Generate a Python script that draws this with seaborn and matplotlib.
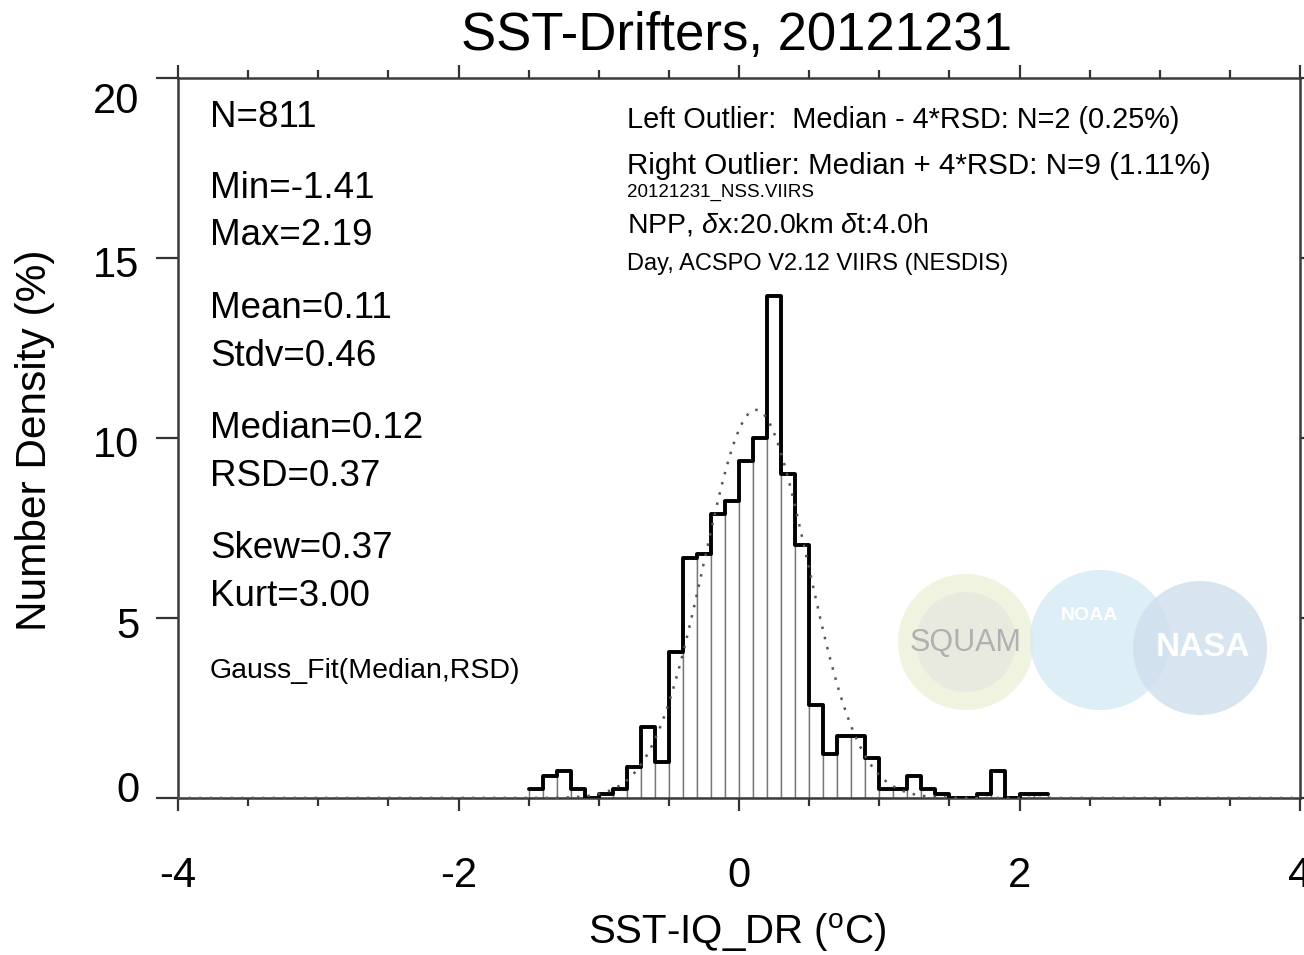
import numpy as np
import pandas as pd
import matplotlib
matplotlib.use("Agg")
import matplotlib.pyplot as plt
import matplotlib.transforms as mtransforms
import seaborn as sns
from matplotlib.patches import Ellipse
from matplotlib.ticker import MultipleLocator

# ---------------- data ----------------
bin_left_edges = [-1.5, -1.4, -1.3, -1.2, -1.1, -1.0, -0.9, -0.8, -0.7, -0.6, -0.5, -0.4, -0.3,
                  -0.2, -0.1, 0.0, 0.1, 0.2, 0.3, 0.4, 0.5, 0.6, 0.7, 0.8, 0.9, 1.0, 1.1, 1.2,
                  1.3, 1.4, 1.5, 1.6, 1.7, 1.8, 1.9, 2.0, 2.1]
bin_counts = [2, 5, 6, 2, 0, 1, 2, 7, 16, 8, 33, 54, 55,
              64, 67, 76, 81, 113, 73, 57, 21, 10, 14, 14, 9, 2, 2, 5,
              2, 1, 0, 0, 1, 6, 0, 1, 1]
bin_width = 0.1
n_total = 811
median = 0.12
rsd = 0.37

stats_lines = [("N=811", 127), ("Min=-1.41", 198), ("Max=2.19", 245),
               ("Mean=0.11", 318), ("Stdv=0.46", 366),
               ("Median=0.12", 438), ("RSD=0.37", 486),
               ("Skew=0.37", 558), ("Kurt=3.00", 606)]

title = "SST-Drifters, 20121231"
xlabel = r"SST-IQ_DR ($^{\rm o}$C)"
ylabel = "Number Density (%)"
x_ticks = [-4, -2, 0, 2, 4]
y_ticks = [0, 5, 10, 15, 20]

# ---------------- setup ----------------
sns.set_theme(style="ticks")
plt.rcParams['font.family'] = ['Liberation Sans', 'DejaVu Sans']
plt.rcParams['mathtext.fontset'] = 'custom'
plt.rcParams['mathtext.rm'] = 'Liberation Sans'
plt.rcParams['mathtext.it'] = 'Liberation Sans:italic'
plt.rcParams['text.color'] = 'black'
plt.rcParams['axes.labelcolor'] = 'black'
plt.rcParams['xtick.labelcolor'] = 'black'
plt.rcParams['ytick.labelcolor'] = 'black'

W, H = 1304, 955
fig = plt.figure(figsize=(W / 100, H / 100), dpi=100)
ax_l, ax_r, ax_t, ax_b = 178, 1300, 78, 798
ax = fig.add_axes([ax_l / W, 1 - ax_b / H, (ax_r - ax_l) / W, (ax_b - ax_t) / H])

edges = [round(v, 3) for v in bin_left_edges] + [round(bin_left_edges[-1] + bin_width, 3)]
centers = [round(v + bin_width / 2, 3) for v in bin_left_edges]
pct = [c / n_total * 100 for c in bin_counts]
df = pd.DataFrame({"x": centers, "w": pct})

# bars: white fill, thin gray dividers
sns.histplot(data=df, x="x", weights="w", bins=edges, stat="count", element="bars",
             fill=True, color="white", edgecolor="#777777", linewidth=1.0, alpha=1,
             ax=ax, zorder=2)
# thick black outline
sns.histplot(data=df, x="x", weights="w", bins=edges, stat="count", element="step",
             fill=False, color="black", linewidth=2.8, ax=ax, zorder=3)

# Gaussian fit (Median, RSD)
gx = np.linspace(-4, 4, 1601)
gy = 100 * bin_width * np.exp(-0.5 * ((gx - median) / rsd) ** 2) / (rsd * np.sqrt(2 * np.pi))
sns.lineplot(x=gx, y=gy, ax=ax, color="#555555", linewidth=1.8,
             linestyle=(0, (1, 3.2)), zorder=5, clip_on=False)

ax.set_xlim(-4, 4)
ax.set_ylim(0, 20)
ax.set_xticks(x_ticks)
ax.set_xticklabels([str(t) for t in x_ticks])
ax.set_yticks(y_ticks)
ax.set_yticklabels([str(t) for t in y_ticks])
ax.xaxis.set_minor_locator(MultipleLocator(0.5))
ax.tick_params(axis="both", which="major", direction="out", width=1.6,
               color="#333333", labelsize=30, top=True, right=True)
ax.tick_params(axis="x", which="major", length=9.5, pad=32)
ax.tick_params(axis="y", which="major", length=16, pad=12)
ax.tick_params(axis="x", which="minor", direction="out", length=6, width=1.6,
               color="#333333", top=True, bottom=True)
ax.tick_params(axis="y", which="minor", left=False, right=False)
for s in ax.spines.values():
    s.set_linewidth(1.8)
    s.set_color("#3a3a3a")
    s.set_visible(True)

# NCL-like vertical nudges of y tick labels (pixels, positive = down)
y_label_nudge = {0: -12, 5: 5, 10: 4, 15: 4, 20: 20}
for val, lab in zip(y_ticks, ax.get_yticklabels()):
    dy = y_label_nudge[val]
    lab.set_transform(lab.get_transform() +
                      mtransforms.ScaledTranslation(0, -dy / 100, fig.dpi_scale_trans))

ax.set_ylabel("")
ax.set_xlabel("")
fig.text(35 / W, 1 - 440 / H, ylabel, rotation=90, fontsize=30.5, ha="center", va="center")
fig.text(737 / W, 1 - 944 / H, xlabel, fontsize=29, ha="center", va="baseline")

fig.text(737 / W, 1 - 50 / H, title, fontsize=38, ha="center", va="baseline")

def fx(px):
    return px / W

def fy(py):
    return 1 - py / H

for txt, base in stats_lines:
    fig.text(fx(210), fy(base), txt, fontsize=26.5, ha="left", va="baseline")
fig.text(fx(210), fy(678), "Gauss_Fit(Median,RSD)", fontsize=20.5, ha="left", va="baseline")

fig.text(fx(627), fy(128), "Left Outlier:  Median - 4*RSD: N=2 (0.25%)", fontsize=20.8,
         ha="left", va="baseline")
fig.text(fx(627), fy(174), "Right Outlier: Median + 4*RSD: N=9 (1.11%)", fontsize=21.3,
         ha="left", va="baseline")
fig.text(fx(627), fy(197), "20121231_NSS.VIIRS", fontsize=13.5, ha="left", va="baseline")
fig.text(fx(627), fy(233), r"NPP, $\delta$x:20.0km $\delta$t:4.0h", fontsize=20.5,
         ha="left", va="baseline")
fig.text(fx(627), fy(270), "Day, ACSPO V2.12 VIIRS (NESDIS)", fontsize=17,
         ha="left", va="baseline")

# faint logo watermarks
aw, ah = ax_r - ax_l, ax_b - ax_t
def circ(cx, cy, r, color, alpha):
    e = Ellipse(((cx - ax_l) / aw, 1 - (cy - ax_t) / ah), 2 * r / aw, 2 * r / ah,
                transform=ax.transAxes, facecolor=color, edgecolor="none", alpha=alpha, zorder=1)
    ax.add_patch(e)

circ(966, 642, 68, "#eef2dc", 0.9)
circ(966, 642, 50, "#e4e4e0", 0.6)
circ(1100, 640, 70, "#d6eaf4", 0.8)
circ(1200, 648, 67, "#cfdeec", 0.8)
ax.text((966 - ax_l) / aw, 1 - (643 - ax_t) / ah, "SQUAM", transform=ax.transAxes,
        fontsize=22, color="#b0b0b0", ha="center", va="center", zorder=1)
ax.text((1090 - ax_l) / aw, 1 - (616 - ax_t) / ah, "NOAA", transform=ax.transAxes,
        fontsize=14, color="white", fontweight="bold", ha="center", va="center", zorder=1)
ax.text((1203 - ax_l) / aw, 1 - (648 - ax_t) / ah, "NASA", transform=ax.transAxes,
        fontsize=24, color="white", fontweight="bold", ha="center", va="center", zorder=1)

fig.savefig("out.png", dpi=100, facecolor="white")
